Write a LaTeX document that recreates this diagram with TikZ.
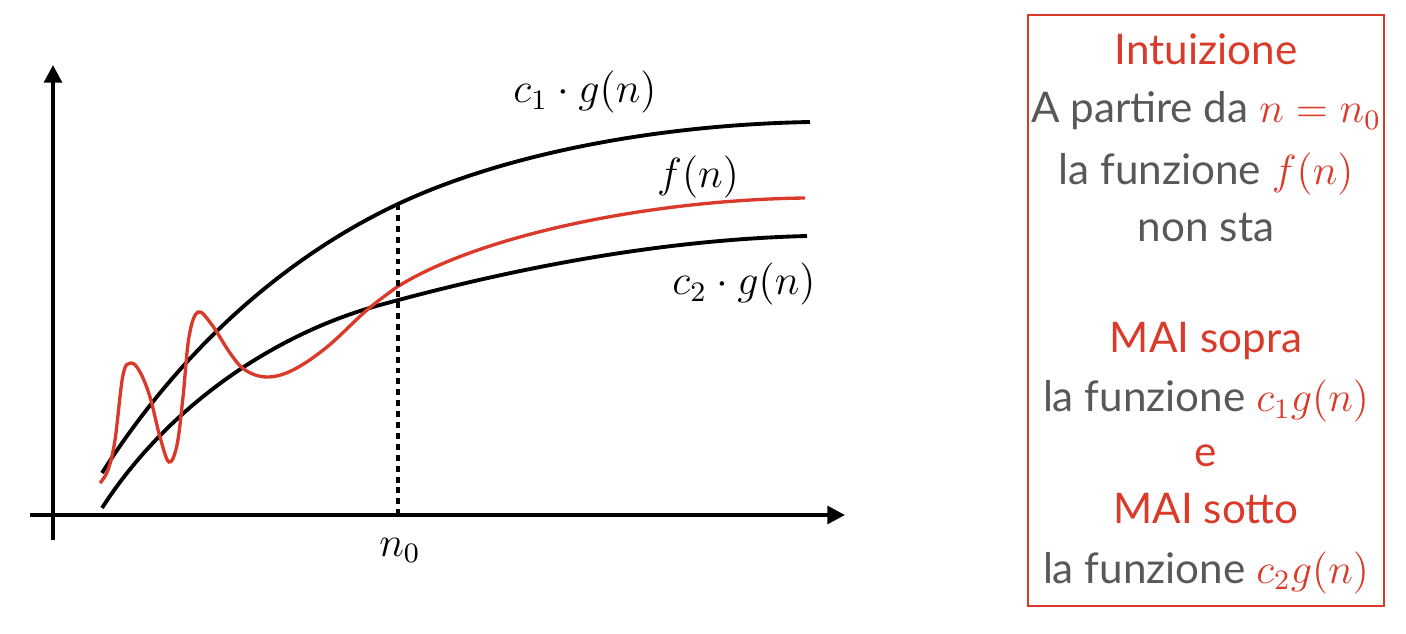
\documentclass[tikz,border=0pt]{standalone}
\usepackage{fontspec}
\setmainfont{Lato}
\usetikzlibrary{arrows.meta}
\definecolor{rosso}{RGB}{218,58,42}
\definecolor{grigio}{RGB}{88,88,88}

\begin{document}
\begin{tikzpicture}[x=0.01cm,y=-0.01cm,
		asse/.style={line width=1.1pt,-{Triangle[width=5pt,length=5pt]}},
		curva/.style={line width=1.1pt},
		etichetta/.style={anchor=base,font=\fontsize{11.5}{14}\selectfont},
		riga/.style={anchor=base,text=grigio,font=\fontsize{12}{15}\selectfont}]
		\useasboundingbox (0,0) rectangle (1406,634);
		% assi
		\coordinate (xstart) at (30,515);
		\coordinate (xend) at (845,515);
		\coordinate (ystart) at (53,540);
		\coordinate (yend) at (53,65);
		\draw[asse] (xstart) -- (xend);
		\draw[asse] (ystart) -- (yend);
		% curve
		\coordinate (top0) at (398,204);
		\coordinate (bot0) at (398,515);
		\draw[curva] (102,473) .. controls (190,335) and (300,250) .. (top0)
			.. controls (500,156) and (650,125) .. (810,122);
		\draw[curva] (102,508) .. controls (165,410) and (270,335) .. (380,305)
			.. controls (500,272) and (650,240) .. (807,236);
		\draw[curva,rosso,line width=0.95pt] plot[smooth,tension=0.6] coordinates {(100,483) (108,470) (115,440) (123,375) (131,363) (140,372) (150,397) (160,437) (169,462) (177,445) (183,397) (189,337) (198,312) (212,325) (230,353) (245,370) (267,377) (293,370) (327,347) (367,310) (397,287)}
			.. controls (480,235) and (650,200) .. (805,198);
		\draw[line width=0.9pt,dash pattern=on 1.7pt off 1.4pt] (top0) -- (bot0);
		\node[etichetta] (c1g) at (585,103) {$c_1\cdot g(n)$};
		\node[etichetta] (fn) at (698,188) {$f(n)$};
		\node[etichetta] (c2g) at (744,295) {$c_2\cdot g(n)$};
		\node[etichetta] (n0) at (400,556) {$n_0$};
		% riquadro
		\draw[rosso,line width=0.6pt] (1028,15) rectangle (1384,606);
		\node[riga,text=rosso] (r1) at (1206,65) {Intuizione};
		\node[riga] (r2) at (1206,123) {A partire da \textcolor{rosso}{$n = n_0$}};
		\node[riga] (r3) at (1206,185) {la funzione \textcolor{rosso}{$f(n)$}};
		\node[riga] (r4) at (1206,242) {non sta};
		\node[riga,text=rosso] (r5) at (1206,353) {MAI sopra};
		\node[riga] (r6) at (1206,412) {la funzione \textcolor{rosso}{$c_1g(n)$}};
		\node[riga,text=rosso] (r7) at (1206,467) {e};
		\node[riga,text=rosso] (r8) at (1206,523) {MAI sotto};
		\node[riga] (r9) at (1206,583) {la funzione \textcolor{rosso}{$c_2g(n)$}};
	\end{tikzpicture}
\end{document}
